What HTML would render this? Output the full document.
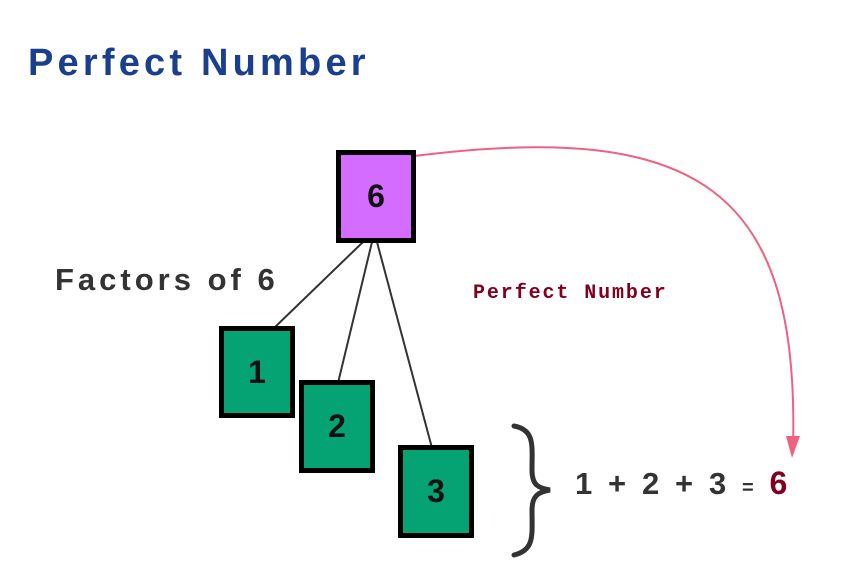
<!DOCTYPE html>
<html><head><style>
body{margin:0;background:#fff;width:866px;height:584px;overflow:hidden;position:relative;font-family:"Liberation Sans",sans-serif}
.t{position:absolute;white-space:nowrap}
.b{position:absolute;box-sizing:border-box;border:5px solid #000;display:flex;align-items:center;justify-content:center;font-size:32px;font-weight:bold;color:#111}
</style></head><body>
<svg width="866" height="584" style="position:absolute;left:0;top:0">
<g stroke="#333" stroke-width="2" fill="none">
<line x1="363" y1="242" x2="273" y2="329"/>
<line x1="372" y1="242" x2="338" y2="383"/>
<line x1="377" y1="242" x2="432" y2="448"/>
</g>
<path d="M414,156 C700,120 800,190 793,448" stroke="#f06080" stroke-width="2" fill="none"/>
<polygon points="786,436 800,436 792,458" fill="#f06080"/>
<path d="M514,426 C535,430 532,445 532,470 C532,485 538,488 550,490 C538,492 532,496 532,510 C532,535 535,550 514,555" stroke="#333" stroke-width="5" fill="none" stroke-linecap="round"/>
</svg>
<div class="t" style="left:28px;top:42px;font-size:38px;color:#1b3f8f;letter-spacing:4.2px;font-weight:bold">Perfect Number</div>
<div class="t" style="left:55px;top:262px;font-size:31px;color:#333;letter-spacing:4px;font-weight:bold">Factors of 6</div>
<div class="t" style="left:473px;top:282px;font-size:20px;font-weight:bold;color:#800020;font-family:'Liberation Mono',monospace;letter-spacing:1.9px">Perfect Number</div>
<div class="b" style="left:336px;top:150px;width:80px;height:93px;background:#d36cff">6</div>
<div class="b" style="left:219px;top:326px;width:76px;height:92px;background:#05a373">1</div>
<div class="b" style="left:299px;top:380px;width:76px;height:93px;background:#05a373">2</div>
<div class="b" style="left:398px;top:445px;width:76px;height:93px;background:#05a373">3</div>
<div class="t" style="left:575px;top:465px;font-size:31px;color:#333;letter-spacing:3.6px;font-weight:bold">1 + 2 + 3 <span style="font-size:20px">=</span> <b style="color:#800020;font-size:32px">6</b></div>
</body></html>
